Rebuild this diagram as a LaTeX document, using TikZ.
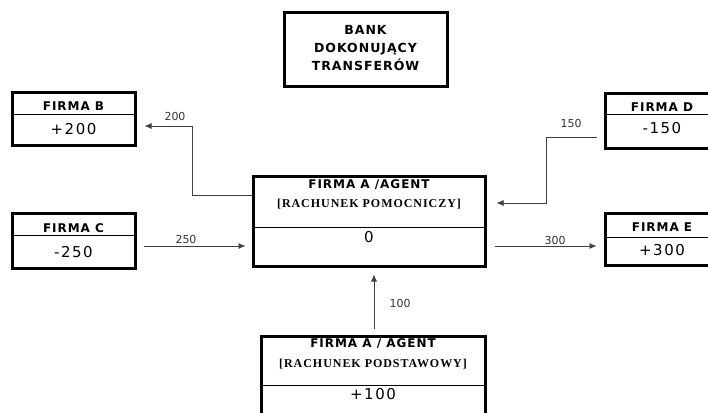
\documentclass[tikz,border=0pt]{standalone}
\usepackage{fontspec}
\usetikzlibrary{arrows.meta}
\newfontfamily\headfont[LetterSpace=8]{DejaVu Sans}
\newfontfamily\numfont[LetterSpace=10]{DejaVu Sans}
\newfontfamily\amtfont{DejaVu Sans}
\newfontfamily\acctfont[LetterSpace=8]{Liberation Serif}
\begin{document}
\begin{tikzpicture}[x=1pt,y=-1pt,
    firm/.style={draw, line width=3pt, inner sep=0pt},
    head/.style={font=\headfont\bfseries\fontsize{12}{14}\selectfont},
    acct/.style={font=\acctfont\bfseries\fontsize{12}{14}\selectfont},
    val/.style={font=\numfont\fontsize{15}{18}\selectfont},
    amt/.style={font=\amtfont\fontsize{11}{13}\selectfont, text=black!80},
    flow/.style={draw=black!75, line width=0.8pt, -{Latex[length=7pt,width=6pt]}}]
   \clip (0,0) rectangle (708,412);
   % bank
   \node[firm, minimum width=163pt, minimum height=73pt] (bank) at (365.5,49.5) {};
   \node[head, align=center, font=\headfont\bfseries\fontsize{12.5}{18}\selectfont] (bankt) at (365.5,48) {BANK\\DOKONUJĄCY\\TRANSFERÓW};
   % firma B
   \node[firm, minimum width=123pt, minimum height=53pt] (B) at (73.5,118.5) {};
   \draw[line width=0.8pt] (B.west |- 0,114) -- (B.east |- 0,114);
   \node[head] (Bh) at (73.5,106) {FIRMA B};
   \node[val] (Bv) at (73.5,129) {+200};
   % firma C
   \node[firm, minimum width=123pt, minimum height=55pt] (C) at (73.5,240.5) {};
   \draw[line width=0.8pt] (C.west |- 0,235) -- (C.east |- 0,235);
   \node[head] (Ch) at (73.5,228) {FIRMA C};
   \node[val] (Cv) at (73.5,252) {-250};
   % firma D
   \node[firm, minimum width=114pt, minimum height=55pt] (D) at (662,120.5) {};
   \draw[line width=0.8pt] (D.west |- 0,114) -- (D.east |- 0,114);
   \node[head] (Dh) at (662,107) {FIRMA D};
   \node[val] (Dv) at (662,128) {-150};
   % firma E
   \node[firm, minimum width=114pt, minimum height=52pt] (E) at (662,239) {};
   \draw[line width=0.8pt] (E.west |- 0,237) -- (E.east |- 0,237);
   \node[head] (Eh) at (662,227.5) {FIRMA E};
   \node[val] (Ev) at (662,250.5) {+300};
   % firma A, rachunek pomocniczy
   \node[firm, minimum width=232pt, minimum height=90pt] (A) at (369,221) {};
   \draw[line width=0.8pt] (A.west |- 0,227) -- (A.east |- 0,227);
   \node[head] (Ah) at (369,184.5) {FIRMA A /AGENT};
   \node[acct] (Aa) at (369,204) {[RACHUNEK POMOCNICZY]};
   \node[val] (Av) at (369,237.5) {0};
   % firma A, rachunek podstawowy
   \node[firm, minimum width=224pt, minimum height=104pt] (P) at (373,388) {};
   \draw[line width=0.8pt] (P.west |- 0,385) -- (P.east |- 0,385);
   \node[head] (Ph) at (373,344) {FIRMA A / AGENT};
   \node[acct] (Pa) at (373,364) {[RACHUNEK PODSTAWOWY]};
   \node[val] (Pv) at (373,394.5) {+100};
   % transfers
   \coordinate (kB) at (192,126);
   \coordinate (kD) at (546,137);
   \draw[flow, shorten >=8pt] (A.west |- 0,195) -| (kB) -- (B.east |- kB);
   \draw[flow, shorten <=7pt, shorten >=10pt] (D.west |- kD) -- (kD) |- (A.east |- 0,203);
   \draw[flow, shorten <=7pt, shorten >=6pt] (C.east |- 0,246) -- (A.west |- 0,246);
   \draw[flow, shorten <=8pt, shorten >=7pt] (A.east |- 0,246) -- (E.west |- 0,246);
   \draw[flow, shorten <=6pt, shorten >=7pt] (P.north -| 374,0) -- (A.south -| 374,0);
   \node[amt] (tB) at (175,116) {200};
   \node[amt] (tD) at (571,123.5) {150};
   \node[amt] (tC) at (186,239.5) {250};
   \node[amt] (tE) at (555,240) {300};
   \node[amt] (tP) at (400,303) {100};
 \end{tikzpicture}
\end{document}
